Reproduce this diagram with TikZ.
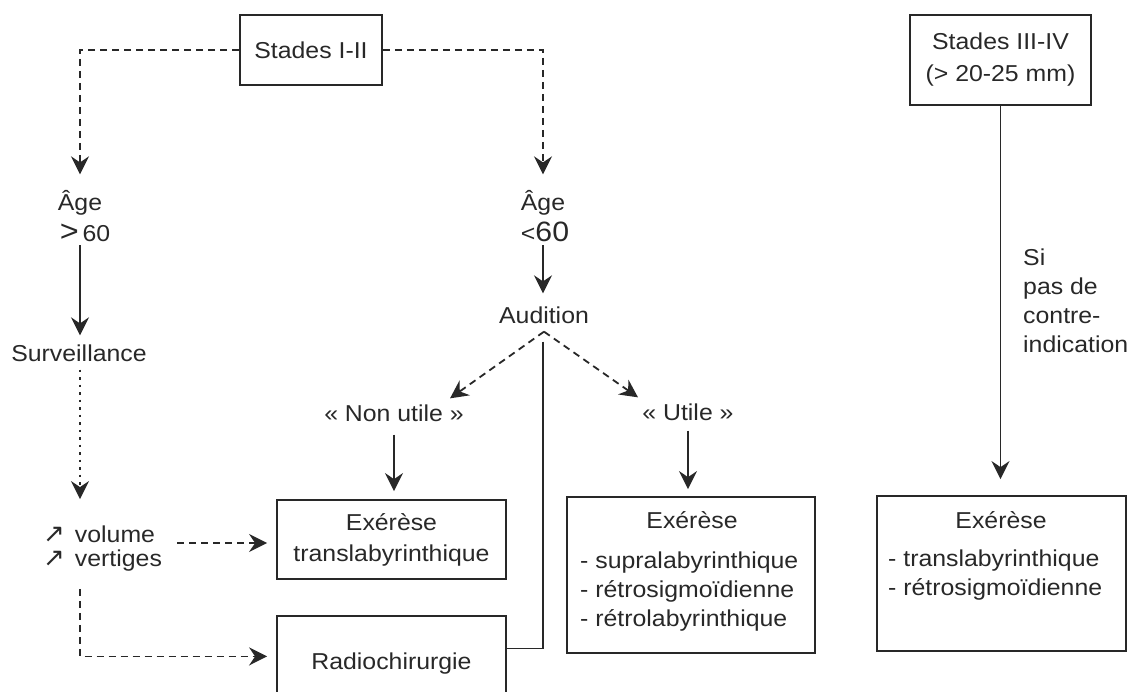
\documentclass[tikz,border=0pt]{standalone}
\usepackage{fontspec}
\setmainfont{Liberation Sans}[FakeStretch=1.08]
\newfontfamily\dejavu{DejaVu Sans}
\usetikzlibrary{arrows.meta}
\definecolor{ink}{RGB}{40,40,40}
\begin{document}
\begin{tikzpicture}[x=1pt,y=-1pt,
  font=\fontsize{23}{29}\selectfont, color=ink,
  box/.style={draw=ink, line width=1.8pt, inner sep=0pt, align=center},
  txt/.style={inner sep=0pt},
  arr/.style={-{Stealth[length=18pt,width=18pt,inset=6pt]}, line width=1.8pt},
  dasharr/.style={arr, dash pattern=on 7pt off 5pt},
  dotarr/.style={arr, dash pattern=on 2.5pt off 5pt},
  plain/.style={line width=1.8pt}]
\useasboundingbox (0,0) rectangle (1134,691);
\clip (0,0) rectangle (1134,691);

% boxes
\node[box, minimum width=142pt, minimum height=70pt] (s12) at (311,50) {Stades I-II};
\node[box, minimum width=181pt, minimum height=90pt] (s34) at (1000.5,60) {Stades III-IV\\[3pt](> 20-25 mm)};
\node[box, minimum width=229pt, minimum height=79pt] (tl) at (391.5,539.5) {Exérèse\\[2pt]translabyrinthique};
\node[box, minimum width=229pt, minimum height=95pt, anchor=north] (rc) at (391.5,615) {Radiochirurgie};
\node[box, minimum width=248pt, minimum height=156pt] (ub) at (691,575) {};
\node[box, minimum width=249pt, minimum height=155pt] (rb) at (1001.5,573.5) {};

% box contents
\node[txt] (ubt) at (692,520) {Exérèse};
\node[txt, anchor=west, align=left] (ubl) at (580,592) {- supralabyrinthique\\- rétrosigmoïdienne\\- rétrolabyrinthique};
\node[txt] (rbt) at (1001,520) {Exérèse};
\node[txt, anchor=west, align=left] (rbl) at (888,575) {- translabyrinthique\\- rétrosigmoïdienne};

% text nodes
\node[txt] (ageL) at (80,203) {Âge};
\node[txt] (gtL) at (85,233) {{\fontsize{30}{30}\selectfont >}\,60};
\node[txt] (ageR) at (543,203) {Âge};
\node[txt] (ltR) at (545,232) {<{\fontsize{28}{28}\selectfont 60}};
\node[txt] (aud) at (544,315) {Audition};
\node[txt] (surv) at (79,353) {Surveillance};
\node[txt, anchor=west, align=left, font=\fontsize{23}{24}\selectfont] (vol) at (43,549) {{\dejavu\fontsize{26}{24}\selectfont ↗}\hspace{10pt}volume\\{\dejavu\fontsize{26}{24}\selectfont ↗}\hspace{10pt}vertiges};
\node[txt] (nu) at (394,413) {« Non utile »};
\node[txt] (ut) at (688,412) {« Utile »};
\node[txt, anchor=west, align=left] (si) at (1023,301) {Si\\pas de\\contre-\\indication};

% connectors
\draw[dasharr, shorten >=16pt] (s12.west) -| (ageL.north);
\draw[dasharr, shorten >=16pt] (s12.east) -| (ageR.north);
\draw[arr, shorten <=3pt, shorten >=9pt] (ageL |- gtL.south) -- (ageL |- surv.north);
\draw[arr, shorten <=3pt, shorten >=13pt] (ageR |- ltR.south) -- (ageR |- aud.north);
\draw[dotarr, shorten <=8pt, shorten >=27pt] (ageL |- surv.south) -- (ageL |- vol.north);
\draw[dasharr, shorten <=15pt, shorten >=9pt] ([yshift=6pt]vol.east) -- ([yshift=6pt]vol.east -| tl.west);
\draw[dasharr, shorten <=17pt, shorten >=9pt] (ageL |- vol.south) |- ([yshift=7pt]rc.west);
\draw[dasharr] ([yshift=-8pt]aud.south) -- ([xshift=56pt,yshift=6pt]nu.north);
\draw[dasharr] ([yshift=-8pt]aud.south) -- ([xshift=-50pt,yshift=6pt]ut.north);
\draw[plain] ([xshift=-1pt,yshift=-18pt]aud.south) |- ([yshift=15pt]rc.east);
\draw[arr, shorten <=13pt, shorten >=8pt] (nu.south) -- (nu.south |- tl.north);
\draw[arr, shorten <=10pt, shorten >=7pt] (ut.south) -- (ut.south |- ub.north);
\draw[arr, shorten >=16pt] (s34.south) -- (s34.south |- rb.north);
\end{tikzpicture}
\end{document}
